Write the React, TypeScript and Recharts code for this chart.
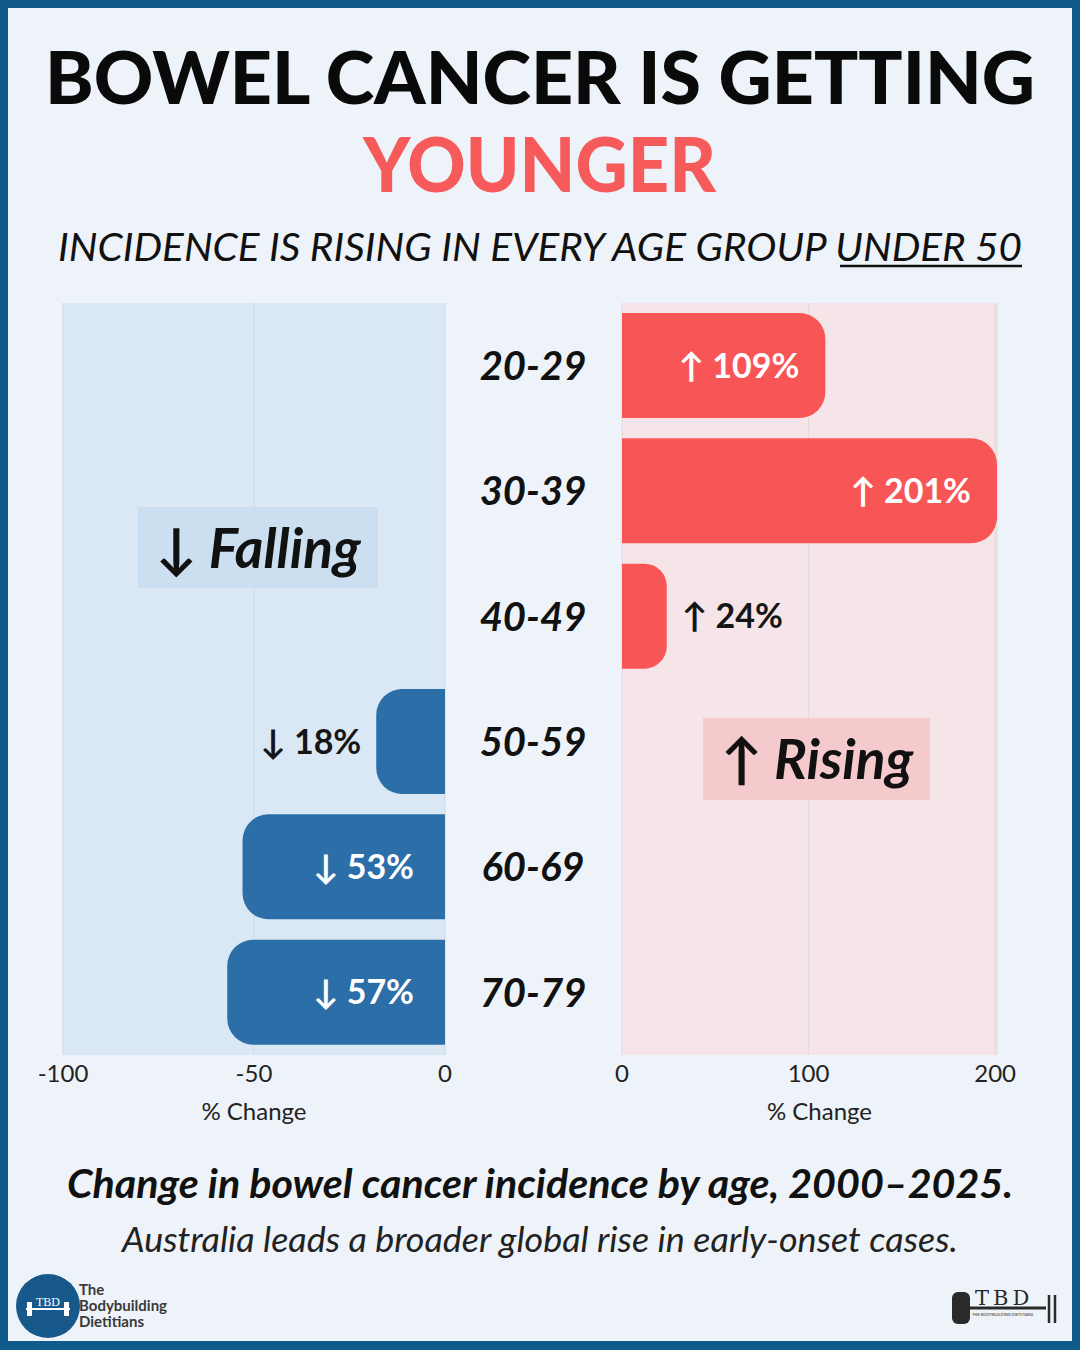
import React from 'react';
import { BarChart, Bar, XAxis, YAxis, CartesianGrid, LabelList } from 'recharts';

const ageGroups = ['20-29', '30-39', '40-49', '50-59', '60-69', '70-79'];
const risingValues: (number | null)[] = [109, 201, 24, null, null, null];
const fallingValues: (number | null)[] = [null, null, null, -18, -53, -57];
const leftTicks = [-100, -50, 0];
const rightTicks = [0, 100, 200];

const risingData = ageGroups.map((age, i) => ({ age, value: risingValues[i] }));
const fallingData = ageGroups.map((age, i) => ({ age, value: fallingValues[i] }));

const FONT = 'Lato, "Open Sans", sans-serif';
const RED = '#f85656';
const BLUE = '#2b6ea8';

const RisingLabel = (props: any) => {
  const { x, y, width, height, value } = props;
  if (value == null) return null;
  const right = Math.max(x, x + width);
  const inside = Math.abs(value) > 50;
  const cy = y + height / 2;
  return (
    <text
      x={inside ? right - 26 : right + 15}
      y={cy}
      dy="0.36em"
      textAnchor={inside ? 'end' : 'start'}
      fill={inside ? '#ffffff' : '#151515'}
      fontSize={34}
      fontWeight={700}
      fontFamily={FONT}
    >
      {`↑ ${Math.abs(value)}%`}
    </text>
  );
};

const FallingLabel = (props: any) => {
  const { x, y, width, height, value } = props;
  if (value == null) return null;
  const left = Math.min(x, x + width);
  const right = Math.max(x, x + width);
  const inside = Math.abs(value) > 30;
  const cy = y + height / 2;
  return (
    <text
      x={inside ? right - 31 : left - 15}
      y={cy}
      dy="0.36em"
      textAnchor="end"
      fill={inside ? '#ffffff' : '#151515'}
      fontSize={34}
      fontWeight={700}
      fontFamily={FONT}
    >
      {`↓ ${Math.abs(value)}%`}
    </text>
  );
};

const AgeTick = (props: any) => {
  const { x, y, payload } = props;
  return (
    <text
      x={x - 81}
      y={y}
      dy="0.36em"
      textAnchor="middle"
      fontSize={40}
      fontWeight={700}
      fontStyle="italic"
      fill="#111"
      fontFamily={FONT}
    >
      {payload.value}
    </text>
  );
};

const tickStyle = { fontSize: 24, fill: '#222', fontFamily: FONT };

export default function App() {
  return (
    <div style={{ position: 'absolute', left: 0, top: 0, width: 1080, height: 1350, overflow: 'hidden', fontFamily: FONT }}>
      <svg width={1080} height={1350} style={{ position: 'absolute', left: 0, top: 0 }}>
        <rect x={0} y={0} width={1080} height={1350} fill="#0f5a8a" />
        <rect x={8} y={8} width={1064} height={1333} fill="#edf3f8" />
        <text x={45} y={104} textLength={990} lengthAdjust="spacingAndGlyphs" fontSize={72} fontWeight={900} fill="#0a0a0a" fontFamily={FONT}>
          BOWEL CANCER IS GETTING
        </text>
        <text x={363} y={192} textLength={353} lengthAdjust="spacingAndGlyphs" fontSize={76} fontWeight={900} fill="#f75a5a" fontFamily={FONT}>
          YOUNGER
        </text>
        <text x={58} y={261} textLength={964} lengthAdjust="spacingAndGlyphs" fontSize={39} fontStyle="italic" fill="#111" fontFamily={FONT}>
          INCIDENCE IS RISING IN EVERY AGE GROUP UNDER 50
        </text>
        <line x1={840} x2={1022} y1={266} y2={266} stroke="#111" strokeWidth={2.5} />
        <text x={67} y={1198} textLength={946} lengthAdjust="spacingAndGlyphs" fontSize={40} fontWeight={700} fontStyle="italic" fill="#111" fontFamily={FONT}>
          Change in bowel cancer incidence by age, 2000–2025.
        </text>
        <text x={122} y={1252} textLength={836} lengthAdjust="spacingAndGlyphs" fontSize={35} fontStyle="italic" fill="#222" fontFamily={FONT}>
          Australia leads a broader global rise in early-onset cases.
        </text>
        {/* left logo */}
        <circle cx={48} cy={1306} r={32} fill="#17598a" />
        <line x1={26} x2={70} y1={1309} y2={1309} stroke="#fff" strokeWidth={2} />
        <rect x={27} y={1302} width={5} height={14} fill="#fff" />
        <rect x={64} y={1302} width={5} height={14} fill="#fff" />
        <text x={48} y={1306} textAnchor="middle" fontSize={12} fill="#fff" fontFamily="serif">TBD</text>
        <text x={79} y={1295} fontSize={15} fontWeight={700} fill="#3a3a3a" fontFamily={FONT}>The</text>
        <text x={79} y={1311} fontSize={15} fontWeight={700} fill="#3a3a3a" fontFamily={FONT}>Bodybuilding</text>
        <text x={79} y={1327} fontSize={15} fontWeight={700} fill="#3a3a3a" fontFamily={FONT}>Dietitians</text>
        {/* right logo */}
        <rect x={952} y={1292} width={18} height={32} rx={6} fill="#2a2a2a" />
        <line x1={970} x2={1046} y1={1308} y2={1308} stroke="#2a2a2a" strokeWidth={3} />
        <text x={975} y={1305} fontSize={21} fill="#2a2a2a" fontFamily="'DejaVu Serif', serif" letterSpacing={4}>TBD</text>
        <text x={972} y={1316} fontSize={4} fill="#2a2a2a" fontFamily={FONT}>THE BODYBUILDING DIETITIANS</text>
        <line x1={1049} x2={1049} y1={1295} y2={1323} stroke="#2a2a2a" strokeWidth={2.5} />
        <line x1={1055} x2={1055} y1={1295} y2={1323} stroke="#2a2a2a" strokeWidth={2.5} />
      </svg>

      <div style={{ position: 'absolute', left: 0, top: 280 }}>
        <BarChart
          width={460}
          height={870}
          layout="vertical"
          data={fallingData}
          margin={{ top: 23, right: 15, bottom: 15, left: 63 }}
        >
          <CartesianGrid horizontal={false} fill="#dae8f5" stroke="#cfd9e3" />
          <XAxis
            type="number"
            domain={[-100, 0]}
            ticks={leftTicks}
            axisLine={false}
            tickLine={false}
            tick={tickStyle}
            tickMargin={4}
            height={80}
            label={{ value: '% Change', position: 'insideBottom', offset: 15, fontSize: 24, fill: '#222', fontFamily: FONT }}
          />
          <YAxis type="category" dataKey="age" hide />
          <Bar dataKey="value" fill={BLUE} barSize={105} radius={[0, 26, 26, 0]} isAnimationActive={false}>
            <LabelList dataKey="value" content={<FallingLabel />} />
          </Bar>
        </BarChart>
      </div>

      <div style={{ position: 'absolute', left: 445, top: 280 }}>
        <BarChart
          width={620}
          height={870}
          layout="vertical"
          data={risingData}
          margin={{ top: 23, right: 68, bottom: 15, left: 0 }}
        >
          <CartesianGrid horizontal={false} fill="#f5e5e8" stroke="#e3d9dc" />
          <XAxis
            type="number"
            domain={[0, 200]}
            ticks={rightTicks}
            axisLine={false}
            tickLine={false}
            tick={tickStyle}
            tickMargin={4}
            height={80}
            label={{ value: '% Change', position: 'insideBottom', offset: 15, dx: 10, fontSize: 24, fill: '#222', fontFamily: FONT }}
          />
          <YAxis type="category" dataKey="age" width={177} axisLine={false} tickLine={false} tick={<AgeTick />} />
          <Bar dataKey="value" fill={RED} barSize={105} radius={[0, 26, 26, 0]} isAnimationActive={false}>
            <LabelList dataKey="value" content={<RisingLabel />} />
          </Bar>
        </BarChart>
      </div>

      <svg width={1080} height={1350} style={{ position: 'absolute', left: 0, top: 0, pointerEvents: 'none' }}>
        <rect x={138} y={507} width={240} height={81} fill="#c9def1" fillOpacity={0.9} />
        <text x={258} y={568} textAnchor="middle" fontSize={55} fontWeight={700} fontStyle="italic" fill="#111" fontFamily={FONT}>↓ Falling</text>
        <rect x={703} y={718} width={227} height={82} fill="#f4c6c9" fillOpacity={0.9} />
        <text x={817} y={779} textAnchor="middle" fontSize={55} fontWeight={700} fontStyle="italic" fill="#111" fontFamily={FONT}>↑ Rising</text>
      </svg>
    </div>
  );
}
